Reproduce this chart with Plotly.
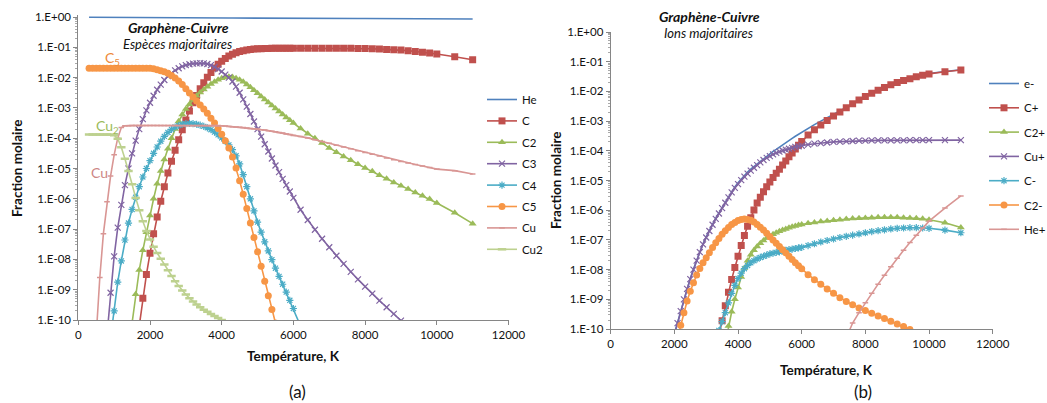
import plotly.graph_objects as go

# ---------------- data (log10 of molar fraction) ----------------
T = [300, 400, 500, 600, 700, 800, 900, 1000, 1100, 1200, 1300, 1400, 1500, 1600, 1700, 1800, 1900, 2000,
     2100, 2200, 2300, 2400, 2500, 2600, 2700, 2800, 2900, 3000, 3100, 3200, 3300, 3400, 3500, 3600, 3700,
     3800, 3900, 4000, 4100, 4200, 4300, 4400, 4500, 4600, 4700, 4800, 4900, 5000, 5100, 5200, 5300, 5400,
     5500, 5600, 5700, 5800, 5900, 6000, 6200, 6400, 6600, 6800, 7000, 7200, 7400, 7600, 7800, 8000, 8200,
     8400, 8600, 8800, 9000, 9200, 9400, 9600, 9800, 10000, 10500, 11000]

# Left chart: majority species (start temperature, log10 values)
He_T0 = 300
He_log = [-0.01] * 18 + [-0.01, -0.01, -0.012, -0.012, -0.013, -0.013, -0.014, -0.014, -0.015, -0.015,
          -0.016, -0.017, -0.018, -0.019, -0.02, -0.022, -0.024, -0.026, -0.028, -0.03,
          -0.032, -0.034, -0.035, -0.036, -0.037, -0.038, -0.039, -0.04, -0.04, -0.041,
          -0.042, -0.042, -0.043, -0.043, -0.043, -0.044, -0.044, -0.044, -0.045, -0.045,
          -0.045, -0.045, -0.045, -0.045, -0.046, -0.046, -0.046, -0.046, -0.047, -0.047,
          -0.047, -0.048, -0.048, -0.049, -0.05, -0.051, -0.052, -0.053, -0.054, -0.055, -0.06, -0.066]
C_T0 = 1700
C_log = [-10.2, -9.28, -8.5, -7.8, -7.15, -6.6, -6.08, -5.6, -5.15, -4.76, -4.4, -4.05, -3.72, -3.4, -3.1,
         -2.83, -2.59, -2.37, -2.17, -1.99, -1.83, -1.68, -1.56, -1.46, -1.37, -1.29, -1.23, -1.18, -1.14,
         -1.11, -1.09, -1.07, -1.06, -1.05, -1.045, -1.04, -1.04, -1.035, -1.035, -1.03, -1.03, -1.03, -1.03,
         -1.03, -1.03, -1.03, -1.03, -1.03, -1.03, -1.03, -1.035, -1.035, -1.04, -1.04, -1.05, -1.06, -1.07,
         -1.08, -1.09, -1.11, -1.14, -1.16, -1.19, -1.22, -1.31, -1.41]
C2_T0 = 1500
C2_log = [-10.1, -9.15, -8.35, -7.7, -7.1, -6.55, -6.0, -5.5, -5.08, -4.7, -4.35, -4.0, -3.7, -3.44, -3.22,
          -3.04, -2.88, -2.73, -2.6, -2.49, -2.39, -2.3, -2.21, -2.14, -2.07, -2.02, -1.99, -1.97, -1.98,
          -2.02, -2.07, -2.14, -2.23, -2.32, -2.42, -2.52, -2.62, -2.72, -2.82, -2.92, -3.02, -3.12, -3.22,
          -3.32, -3.41, -3.5, -3.68, -3.85, -4.0, -4.16, -4.32, -4.46, -4.6, -4.73, -4.86, -4.98, -5.09,
          -5.22, -5.34, -5.46, -5.57, -5.68, -5.79, -5.9, -6.01, -6.14, -6.46, -6.82]
C3_T0 = 800
C3_log = [-10.5, -9.1, -7.9, -6.95, -6.2, -5.55, -5.0, -4.5, -4.08, -3.7, -3.37, -3.08, -2.83, -2.6, -2.4,
          -2.23, -2.08, -1.95, -1.85, -1.76, -1.69, -1.63, -1.59, -1.56, -1.54, -1.53, -1.52, -1.53, -1.55,
          -1.59, -1.65, -1.72, -1.8, -1.9, -2.0, -2.13, -2.3, -2.5, -2.72, -2.96, -3.2, -3.45, -3.7, -3.95,
          -4.2, -4.44, -4.67, -4.9, -5.12, -5.34, -5.55, -5.76, -5.97, -6.36, -6.7, -7.02, -7.32, -7.6,
          -7.88, -8.15, -8.41, -8.66, -8.9, -9.13, -9.36, -9.58, -9.8, -10.02, -10.24]
C4_T0 = 900
C4_log = [-10.6, -9.7, -8.75, -8.05, -7.36, -6.8, -6.35, -5.95, -5.6, -5.28, -5.0, -4.74, -4.5, -4.29, -4.1,
          -3.94, -3.81, -3.71, -3.63, -3.58, -3.54, -3.52, -3.51, -3.52, -3.54, -3.57, -3.61, -3.66, -3.72,
          -3.8, -3.89, -3.99, -4.1, -4.22, -4.38, -4.58, -4.85, -5.2, -5.6, -6.0, -6.4, -6.77, -7.1, -7.42,
          -7.72, -8.01, -8.29, -8.56, -8.82, -9.08, -9.35, -9.62, -10.2]
C5_T0 = 300
C5_log = [-1.69] * 18 + [-1.71, -1.74, -1.77, -1.81, -1.86, -1.93, -2.01, -2.11, -2.23, -2.37, -2.51, -2.64,
          -2.77, -2.9, -3.04, -3.18, -3.34, -3.5, -3.68, -3.87, -4.08, -4.32, -4.62, -4.98, -5.4, -5.85,
          -6.32, -6.8, -7.28, -7.75, -8.23, -8.72, -9.2, -9.65, -10.1]
Cu_T0 = 500
Cu_log = [-10.5, -8.6, -7.15, -6.1, -5.25, -4.55, -4.0, -3.65, -3.59, -3.585] + [-3.58] * 25 + [
          -3.59, -3.6, -3.61, -3.62, -3.63, -3.64, -3.65, -3.66, -3.68, -3.69, -3.7, -3.72, -3.73, -3.75,
          -3.77, -3.79, -3.81, -3.83, -3.86, -3.88, -3.91, -3.94, -3.99, -4.05, -4.11, -4.17, -4.23, -4.29,
          -4.35, -4.41, -4.47, -4.53, -4.59, -4.65, -4.71, -4.77, -4.82, -4.87, -4.92, -4.97, -5.02, -5.07,
          -5.18, -5.28]
Cu2_T0 = 300
Cu2_log = [-3.88] * 7 + [-3.9, -4.02, -4.3, -4.68, -5.08, -5.52, -5.97, -6.38, -6.74, -7.06, -7.34, -7.58,
           -7.79, -7.98, -8.17, -8.36, -8.55, -8.72, -8.88, -9.03, -9.16, -9.28, -9.39, -9.49, -9.58, -9.66,
           -9.73, -9.8, -9.87, -9.93, -10.0, -10.06]

# Right chart: majority ions
em_T0 = 2000
em_log = [-10.15, -9.78, -9.38, -8.98, -8.63, -8.3, -7.98, -7.68, -7.39, -7.13, -6.9, -6.68, -6.47, -6.27,
          -6.09, -5.91, -5.73, -5.55, -5.38, -5.22, -5.08, -4.95, -4.83, -4.72, -4.62, -4.53, -4.44, -4.35,
          -4.26, -4.18, -4.1, -4.02, -3.95, -3.87, -3.8, -3.72, -3.65, -3.58, -3.51, -3.44, -3.37, -3.24,
          -3.12, -3.0, -2.89, -2.78, -2.67, -2.54, -2.41, -2.28, -2.16, -2.05, -1.95, -1.86, -1.77, -1.69,
          -1.62, -1.56, -1.5, -1.45, -1.4, -1.33, -1.27]
Cp_T0 = 3400
Cp_log = [-10.2, -9.72, -9.22, -8.76, -8.33, -7.93, -7.55, -7.19, -6.85, -6.54, -6.25, -5.99, -5.76, -5.56,
          -5.38, -5.21, -5.05, -4.9, -4.76, -4.62, -4.48, -4.34, -4.2, -4.07, -3.94, -3.81, -3.69, -3.47,
          -3.29, -3.13, -2.98, -2.83, -2.69, -2.55, -2.42, -2.29, -2.17, -2.06, -1.96, -1.87, -1.78, -1.7,
          -1.63, -1.57, -1.51, -1.46, -1.41, -1.34, -1.28]
C2p_T0 = 3600
C2p_log = [-10.5, -9.9, -9.42, -9.0, -8.6, -8.25, -7.95, -7.7, -7.5, -7.35, -7.22, -7.11, -7.02, -6.94, -6.87,
           -6.81, -6.76, -6.71, -6.67, -6.63, -6.59, -6.56, -6.53, -6.5, -6.48, -6.44, -6.41, -6.38, -6.36,
           -6.34, -6.32, -6.3, -6.28, -6.27, -6.26, -6.25, -6.24, -6.24, -6.24, -6.24, -6.25, -6.26, -6.27,
           -6.29, -6.32, -6.42, -6.58]
Cup_T0 = 2000
Cup_log = [-10.2, -9.8, -9.4, -9.0, -8.65, -8.32, -8.0, -7.7, -7.41, -7.15, -6.92, -6.7, -6.49, -6.29, -6.11,
           -5.93, -5.75, -5.57, -5.4, -5.25, -5.12, -4.99, -4.87, -4.77, -4.67, -4.57, -4.48, -4.39, -4.31,
           -4.24, -4.18, -4.12, -4.07, -4.03, -3.99, -3.96, -3.93, -3.9, -3.87, -3.85, -3.83, -3.79, -3.76,
           -3.74, -3.72, -3.7, -3.69, -3.68, -3.67, -3.66, -3.66, -3.65, -3.65, -3.65, -3.65, -3.65, -3.65,
           -3.64, -3.64, -3.64, -3.64, -3.64, -3.64]
Cm_T0 = 3400
Cm_log = [-10.05, -9.75, -9.45, -9.12, -8.8, -8.53, -8.3, -8.12, -7.97, -7.86, -7.77, -7.7, -7.64, -7.59,
          -7.55, -7.51, -7.47, -7.45, -7.42, -7.4, -7.37, -7.35, -7.33, -7.31, -7.29, -7.27, -7.25, -7.19,
          -7.13, -7.07, -7.02, -6.97, -6.92, -6.88, -6.84, -6.8, -6.76, -6.72, -6.69, -6.66, -6.63, -6.61,
          -6.6, -6.59, -6.59, -6.6, -6.61, -6.67, -6.76]
C2m_T0 = 2100
C2m_log = [-10.3, -9.87, -9.45, -9.06, -8.73, -8.44, -8.18, -7.96, -7.77, -7.6, -7.43, -7.26, -7.1, -6.95,
           -6.81, -6.69, -6.58, -6.48, -6.41, -6.35, -6.31, -6.3, -6.31, -6.34, -6.4, -6.48, -6.57, -6.67,
           -6.78, -6.89, -7.0, -7.11, -7.22, -7.33, -7.44, -7.55, -7.66, -7.77, -7.87, -7.97, -8.17, -8.34,
           -8.49, -8.65, -8.8, -8.95, -9.07, -9.18, -9.29, -9.38, -9.47, -9.56, -9.65, -9.74, -9.83, -9.92,
           -10.02]
Hep_T0 = 7400
Hep_log = [-10.3, -9.8, -9.45, -9.12, -8.8, -8.49, -8.19, -7.9, -7.62, -7.35, -7.09, -6.84, -6.6, -6.37,
           -5.93, -5.52]

# tick labels
y_tick_exp = list(range(0, -11, -1))
y_tick_text = ["1.E+00", "1.E-01", "1.E-02", "1.E-03", "1.E-04", "1.E-05",
               "1.E-06", "1.E-07", "1.E-08", "1.E-09", "1.E-10"]
x_ticks = [0, 2000, 4000, 6000, 8000, 10000, 12000]
x_tick_text = ["0", "2000", "4000", "6000", "8000", "10000", "12000"]

# shaded region (left chart), in data units
shade_T = [95, 1210]
shade_logy = [-10.0, -0.72]

# ---------------- styling ----------------
W, H = 1047, 403
FONT = "Lato, Carlito, 'Liberation Sans', sans-serif"
BLUE, RED, GREEN, PURPLE, AQUA, ORANGE = "#4F81BD", "#C0504D", "#9BBB59", "#8064A2", "#4BACC6", "#F79646"
PINK, LGREEN = "#D99694", "#BDD18F"
AXC = "#868686"
TXT = "#111111"


def px(x):
    return x / W


def py(y):
    return 1 - y / H


def series(t0, logs):
    i = T.index(t0)
    xs = T[i:i + len(logs)]
    return xs, [10 ** v for v in logs]


def style(kind, color):
    if kind == "line":
        return dict(mode="lines", line=dict(color=color, width=1.6))
    sym = {"sq": ("square", 7, 0), "tri": ("triangle-up", 7, 0), "x": ("x-thin", 6, 1.2),
           "ast": ("asterisk", 6, 1.2), "circ": ("circle", 7, 0), "dash": ("line-ew", 4, 1.5),
           "dash2": ("line-ew", 6, 2.5)}[kind]
    return dict(mode="lines+markers", line=dict(color=color, width=1.6),
                marker=dict(symbol=sym[0], size=sym[1], color=color,
                            line=dict(width=sym[2], color=color)))


fig = go.Figure()

left = [("He", He_T0, He_log, "line", BLUE), ("C", C_T0, C_log, "sq", RED),
        ("C2", C2_T0, C2_log, "tri", GREEN), ("C3", C3_T0, C3_log, "x", PURPLE),
        ("C4", C4_T0, C4_log, "ast", AQUA), ("C5", C5_T0, C5_log, "circ", ORANGE),
        ("Cu", Cu_T0, Cu_log, "dash", PINK), ("Cu2", Cu2_T0, Cu2_log, "dash2", LGREEN)]
right = [("e-", em_T0, em_log, "line", BLUE), ("C+", Cp_T0, Cp_log, "sq", RED),
         ("C2+", C2p_T0, C2p_log, "tri", GREEN), ("Cu+", Cup_T0, Cup_log, "x", PURPLE),
         ("C-", Cm_T0, Cm_log, "ast", AQUA), ("C2-", C2m_T0, C2m_log, "circ", ORANGE),
         ("He+", Hep_T0, Hep_log, "dash", PINK)]

for name, t0, logs, kind, color in left:
    xs, ys = series(t0, logs)
    fig.add_trace(go.Scatter(x=xs, y=ys, name=name, legend="legend", legendgroup="L" + name,
                             xaxis="x", yaxis="y", cliponaxis=True, **style(kind, color)))
for name, t0, logs, kind, color in right:
    xs, ys = series(t0, logs)
    fig.add_trace(go.Scatter(x=xs, y=ys, name=name, legend="legend2", legendgroup="R" + name,
                             xaxis="x2", yaxis="y2", cliponaxis=True, **style(kind, color)))

minor_vals = [m * 10 ** e for e in range(-10, 0) for m in range(2, 10)]


def yaxis(domain, top, anchor):
    return dict(type="log", domain=domain, range=[-10, top], anchor=anchor, automargin=False,
                tickmode="array", tickvals=[10 ** e for e in y_tick_exp], ticktext=y_tick_text,
                showline=True, linecolor=AXC, linewidth=1, ticks="outside", ticklen=4,
                tickcolor=AXC, showgrid=False, zeroline=False,
                tickfont=dict(family=FONT, size=11.5, color=TXT),
                minor=dict(tickmode="array", tickvals=minor_vals, ticks="outside", ticklen=2,
                           tickcolor="#aaaaaa", showgrid=False))


def xaxis(domain, anchor):
    return dict(domain=domain, range=[0, 12000], anchor=anchor, automargin=False, tickmode="array",
                tickvals=x_ticks, ticktext=x_tick_text,
                showline=True, linecolor=AXC, linewidth=1, ticks="outside", ticklen=4, tickcolor=AXC,
                showgrid=False, zeroline=False, tickfont=dict(family=FONT, size=11.5, color=TXT))


L_top_log = 0.05
fig.update_layout(
    width=W, height=H, margin=dict(l=0, r=0, t=0, b=0, autoexpand=False),
    paper_bgcolor="white", plot_bgcolor="white",
    xaxis=xaxis([px(78.3), px(508.5)], "y"),
    yaxis=yaxis([py(320), py(17 - 30.3 * L_top_log)], L_top_log, "x"),
    xaxis2=xaxis([px(610.7), px(992.7)], "y2"),
    yaxis2=yaxis([py(329), py(32)], 0, "x2"),
    legend=dict(x=px(482), y=py(85), xanchor="left", yanchor="top", traceorder="grouped",
                tracegroupgap=2.4, font=dict(family=FONT, size=11.5, color=TXT),
                bgcolor="rgba(0,0,0,0)", itemwidth=30),
    legend2=dict(x=px(984), y=py(69), xanchor="left", yanchor="top", traceorder="grouped",
                 tracegroupgap=5.3, font=dict(family=FONT, size=11.5, color=TXT),
                 bgcolor="rgba(0,0,0,0)", itemwidth=30),
    shapes=[dict(type="rect", xref="x", yref="y", x0=shade_T[0], x1=shade_T[1],
                 y0=shade_logy[0], y1=shade_logy[1], fillcolor="#DFE8F4", line=dict(width=0),
                 layer="below")],
)


def ann(x, y, text, size=11, color=TXT, angle=0):
    fig.add_annotation(x=px(x), y=py(y), xref="paper", yref="paper", text=text, showarrow=False,
                       xanchor="center", yanchor="middle", textangle=angle,
                       font=dict(family=FONT, size=size, color=color))


ann(178, 28, "<b><i>Graphène-Cuivre</i></b>", 14)
ann(177, 44, "<i>Espèces majoritaires</i>", 13)
ann(709, 17, "<b><i>Graphène-Cuivre</i></b>", 14)
ann(708, 33, "<i>Ions majoritaires</i>", 13)
ann(17, 168, "<b>Fraction molaire</b>", 13.5, angle=-90)
ann(556, 180, "<b>Fraction molaire</b>", 13.5, angle=-90)
ann(293, 356, "<b>Température, K</b>", 13.5)
ann(826, 370, "<b>Température, K</b>", 13.5)
ann(297, 391, "(a)", 17)
ann(863, 391, "(b)", 17)
ann(112, 58, "C<sub>5</sub>", 14, "#EE8A3A")
ann(107, 127, "Cu<sub>2</sub>", 14, "#9BBB59")
ann(99, 173, "Cu", 14, "#CD8684")

fig.write_html("out.html", post_script="document.body.style.margin='0px';",
               config={"displayModeBar": False})
